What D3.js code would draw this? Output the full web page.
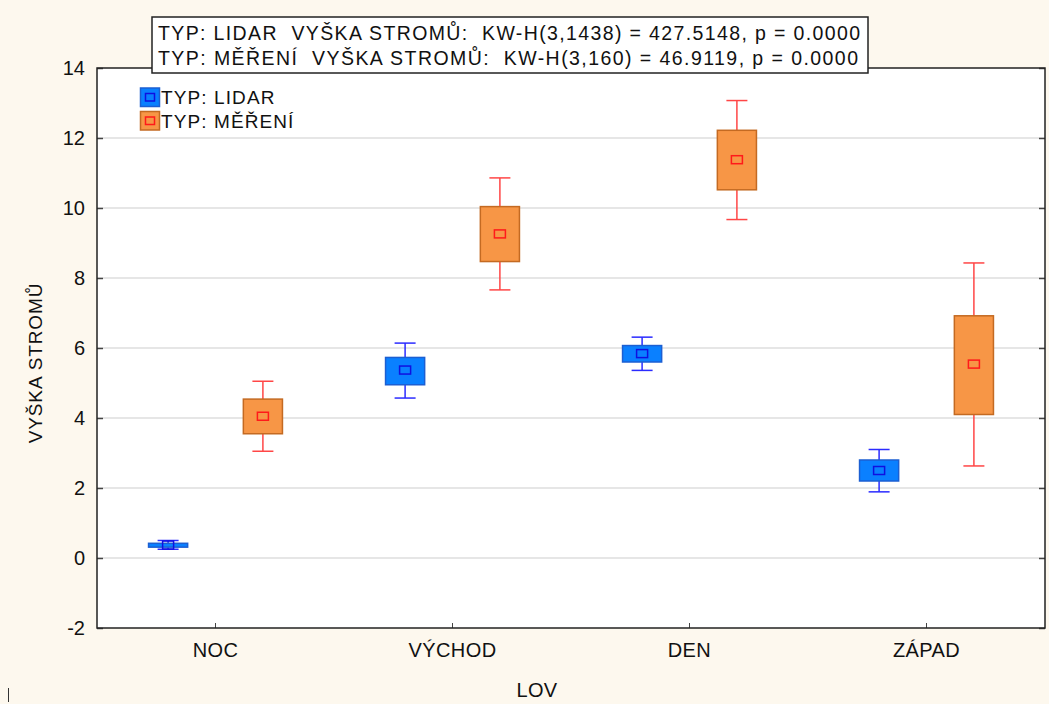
<!DOCTYPE html>
<html>
<head>
<meta charset="utf-8">
<script src="https://cdn.jsdelivr.net/npm/d3@7"></script>
<style>
  html, body { margin: 0; padding: 0; background: #fdf8ee; }
  svg { display: block; }
  text { font-family: "Liberation Sans", Arial, sans-serif; fill: #111; white-space: pre; }
</style>
</head>
<body>
<svg id="chart" width="1049" height="704"></svg>
<script>
// Tree height by hunting period (LOV) and measurement type
const categories = ["NOC", "VÝCHOD", "DEN", "ZÁPAD"];
const seriesNames = ["TYP: LIDAR", "TYP: MĚŘENÍ"];

// TYP: LIDAR — mean, box (lower/upper), whiskers (lower/upper)
const lidarMean = [0.37, 5.37, 5.84, 2.50];
const lidarBoxLow = [0.31, 4.95, 5.60, 2.20];
const lidarBoxHigh = [0.42, 5.73, 6.07, 2.80];
const lidarWhiskerLow = [0.25, 4.57, 5.36, 1.89];
const lidarWhiskerHigh = [0.50, 6.14, 6.31, 3.10];

// TYP: MĚŘENÍ — mean, box (lower/upper), whiskers (lower/upper)
const merMean = [4.05, 9.26, 11.38, 5.54];
const merBoxLow = [3.55, 8.47, 10.52, 4.10];
const merBoxHigh = [4.54, 10.04, 12.22, 6.92];
const merWhiskerLow = [3.05, 7.66, 9.67, 2.63];
const merWhiskerHigh = [5.05, 10.86, 13.07, 8.43];

const yTicks = [-2, 0, 2, 4, 6, 8, 10, 12, 14];
const statLines = [
  "TYP: LIDAR  VYŠKA STROMŮ:  KW-H(3,1438) = 427.5148, p = 0.0000",
  "TYP: MĚŘENÍ  VYŠKA STROMŮ:  KW-H(3,160) = 46.9119, p = 0.0000"
];
const xTitle = "LOV";
const yTitle = "VYŠKA STROMŮ";

const styles = [
  { fill: "#0a80ff", stroke: "#1c5fd2", whisker: "#2b2bff", mean: "#1010e0", offset: -0.2 },
  { fill: "#f79646", stroke: "#c46a22", whisker: "#ff4646", mean: "#ff1a1a", offset: 0.2 }
];

const seriesData = [
  { mean: lidarMean, lo: lidarBoxLow, hi: lidarBoxHigh, wlo: lidarWhiskerLow, whi: lidarWhiskerHigh },
  { mean: merMean, lo: merBoxLow, hi: merBoxHigh, wlo: merWhiskerLow, whi: merWhiskerHigh }
];

const svg = d3.select("#chart");
const plot = { left: 97, right: 1045, top: 68, bottom: 628 };
const FONT = "'Liberation Sans', Arial, sans-serif";

const x = d3.scaleBand().domain(categories).range([plot.left, plot.right]).padding(0);
const y = d3.scaleLinear().domain([-2, 14]).range([plot.bottom, plot.top]);
const bw = x.bandwidth();
const boxW = bw * 0.165;
const capW = 21;

// plot area
svg.append("rect")
  .attr("x", plot.left).attr("y", plot.top)
  .attr("width", plot.right - plot.left).attr("height", plot.bottom - plot.top)
  .attr("fill", "#fff");

// gridlines
svg.append("g")
  .selectAll("line")
  .data(yTicks.filter(t => t > -2 && t < 14))
  .join("line")
  .attr("x1", plot.left).attr("x2", plot.right)
  .attr("y1", d => y(d)).attr("y2", d => y(d))
  .attr("stroke", "#dedede").attr("stroke-width", 1.5);

// left axis with inward ticks
const yAxis = svg.append("g")
  .attr("transform", `translate(${plot.left},0)`)
  .call(d3.axisLeft(y).tickValues(yTicks).tickSize(-6).tickPadding(12).tickFormat(d => String(d)));
yAxis.select(".domain").remove();
yAxis.selectAll(".tick line").attr("stroke", "#444").attr("stroke-width", 1.5);
yAxis.selectAll(".tick text").attr("font-size", 20).attr("fill", "#111")
  .style("font-family", FONT);

// right axis ticks (inward, no labels)
const yAxisR = svg.append("g")
  .attr("transform", `translate(${plot.right},0)`)
  .call(d3.axisRight(y).tickValues(yTicks).tickSize(-6).tickFormat(""));
yAxisR.select(".domain").remove();
yAxisR.selectAll(".tick line").attr("stroke", "#444").attr("stroke-width", 1.5);

// bottom axis
const xAxis = svg.append("g")
  .attr("transform", `translate(0,${plot.bottom})`)
  .call(d3.axisBottom(x).tickSize(-5).tickPadding(15));
xAxis.select(".domain").remove();
xAxis.selectAll(".tick line").attr("stroke", "#444").attr("stroke-width", 1);
xAxis.selectAll(".tick text").attr("font-size", 20).attr("fill", "#111")
  .attr("letter-spacing", 0.4)
  .style("font-family", FONT);

// frame
svg.append("rect")
  .attr("x", plot.left).attr("y", plot.top)
  .attr("width", plot.right - plot.left).attr("height", plot.bottom - plot.top)
  .attr("fill", "none").attr("stroke", "#222").attr("stroke-width", 1.5);

// boxes
seriesData.forEach((s, si) => {
  const st = styles[si];
  const g = svg.append("g");
  categories.forEach((c, i) => {
    const cx = x(c) + bw / 2 + st.offset * bw;
    // whiskers
    g.append("line").attr("x1", cx).attr("x2", cx)
      .attr("y1", y(s.whi[i])).attr("y2", y(s.hi[i]))
      .attr("stroke", st.whisker).attr("stroke-width", 1.5);
    g.append("line").attr("x1", cx).attr("x2", cx)
      .attr("y1", y(s.lo[i])).attr("y2", y(s.wlo[i]))
      .attr("stroke", st.whisker).attr("stroke-width", 1.5);
    [s.whi[i], s.wlo[i]].forEach(v => {
      g.append("line").attr("x1", cx - capW / 2).attr("x2", cx + capW / 2)
        .attr("y1", y(v)).attr("y2", y(v))
        .attr("stroke", st.whisker).attr("stroke-width", 1.5);
    });
    // box
    g.append("rect")
      .attr("x", cx - boxW / 2).attr("y", y(s.hi[i]))
      .attr("width", boxW).attr("height", Math.max(1, y(s.lo[i]) - y(s.hi[i])))
      .attr("fill", st.fill).attr("stroke", st.stroke).attr("stroke-width", 1.5);
    // mean marker
    g.append("rect")
      .attr("x", cx - 5.5).attr("y", y(s.mean[i]) - 4)
      .attr("width", 11).attr("height", 8)
      .attr("fill", "none").attr("stroke", st.mean).attr("stroke-width", 1.5);
  });
});

// legend
const legend = svg.append("g");
seriesNames.forEach((name, i) => {
  const st = styles[i];
  const ly = 88 + i * 23.5;
  legend.append("rect").attr("x", 140.5).attr("y", ly)
    .attr("width", 19).attr("height", 18.5)
    .attr("fill", st.fill).attr("stroke", st.stroke).attr("stroke-width", 1.5);
  legend.append("rect").attr("x", 145.5).attr("y", ly + 5.5)
    .attr("width", 9).attr("height", 7.5)
    .attr("fill", "none").attr("stroke", st.mean).attr("stroke-width", 1.5);
  legend.append("text").attr("x", 161).attr("y", ly + 16)
    .attr("font-size", 19).attr("letter-spacing", 1.1).text(name);
});

// statistics box
const stat = svg.append("g");
stat.append("rect").attr("x", 152).attr("y", 17).attr("width", 716).attr("height", 56)
  .attr("fill", "#fff").attr("stroke", "#222").attr("stroke-width", 1.5);
const statWidths = [702, 700];
statLines.forEach((t, i) => {
  stat.append("text").attr("x", 158).attr("y", 40 + i * 25)
    .attr("font-size", 19.5)
    .attr("textLength", statWidths[i]).attr("lengthAdjust", "spacing")
    .text(t);
});

// axis titles
svg.append("text").attr("x", (plot.left + plot.right) / 2 - 34).attr("y", 697)
  .attr("text-anchor", "middle").attr("font-size", 20).attr("letter-spacing", 0.4).text(xTitle);
svg.append("text")
  .attr("transform", `translate(42,${(plot.top + plot.bottom) / 2 + 15}) rotate(-90)`)
  .attr("text-anchor", "middle").attr("font-size", 19).attr("letter-spacing", 0.9).text(yTitle);

// small edge mark at lower left
svg.append("line").attr("x1", 8.5).attr("x2", 8.5).attr("y1", 688).attr("y2", 702)
  .attr("stroke", "#333").attr("stroke-width", 1);
</script>
</body>
</html>
